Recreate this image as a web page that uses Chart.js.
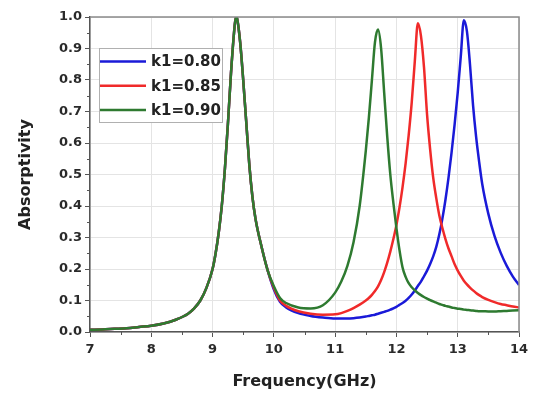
<!DOCTYPE html>
<html><head><meta charset="utf-8">
<script src="https://cdn.jsdelivr.net/npm/chart.js@4.4.0/dist/chart.umd.min.js"></script>
<style>html,body{margin:0;padding:0;background:#fff}#wrap{width:534px;height:396px}</style>
</head><body><div id="wrap"><canvas id="c" width="534" height="396"></canvas></div>
<script>
const freq = [7.0,7.2,7.4,7.6,7.8,8.0,8.2,8.4,8.6,8.7,8.8,8.9,9.0,9.05,9.1,9.15,9.2,9.25,9.3,9.35,9.38,9.4,9.45,9.5,9.55,9.6,9.65,9.7,9.8,9.9,
  10.0,10.1,10.2,10.4,10.6,10.8,11.0,11.1,11.2,11.3,11.4,11.5,11.55,11.6,11.65,11.7,11.75,11.8,11.85,11.9,11.95,12.0,
  12.05,12.1,12.15,12.2,12.25,12.3,12.35,12.4,12.45,12.5,12.55,12.6,12.65,12.7,12.75,
  12.8,12.85,12.9,12.95,13.0,13.05,13.1,13.15,13.2,13.25,13.3,13.35,13.4,
  13.5,13.6,13.7,13.8,13.9,14.0];

const k080 = [0.007,0.008,0.010,0.012,0.016,0.020,0.027,0.039,0.058,0.075,0.100,0.140,0.200,0.250,0.315,0.400,0.515,0.660,0.820,0.950,1.000,0.995,0.920,0.800,0.665,0.530,0.430,0.360,0.270,0.195,
  0.135,0.096,0.078,0.060,0.051,0.046,0.043,0.043,0.043,0.044,0.046,0.049,0.051,0.053,0.055,0.058,0.061,0.064,0.067,0.071,0.075,0.080,
  0.086,0.092,0.099,0.108,0.119,0.132,0.146,0.160,0.177,0.195,0.216,0.240,0.270,0.310,0.360,
  0.420,0.490,0.570,0.660,0.760,0.875,0.990,0.955,0.850,0.720,0.620,0.540,0.470,
  0.375,0.305,0.252,0.210,0.176,0.149];

const k085 = [0.007,0.008,0.010,0.012,0.016,0.020,0.027,0.039,0.058,0.075,0.100,0.140,0.200,0.250,0.315,0.400,0.515,0.660,0.820,0.950,1.000,0.995,0.920,0.800,0.665,0.530,0.430,0.360,0.270,0.195,
  0.140,0.100,0.083,0.066,0.058,0.055,0.056,0.060,0.067,0.076,0.087,0.100,0.108,0.118,0.130,0.145,0.165,0.190,0.220,0.255,0.295,0.340,
  0.395,0.460,0.535,0.625,0.730,0.860,0.980,0.940,0.840,0.690,0.580,0.490,0.425,0.370,0.330,
  0.295,0.265,0.240,0.215,0.195,0.178,0.163,0.151,0.141,0.132,0.124,0.117,0.111,
  0.102,0.095,0.089,0.085,0.081,0.078];

const k090 = [0.007,0.008,0.010,0.012,0.016,0.020,0.027,0.039,0.058,0.075,0.100,0.140,0.200,0.250,0.315,0.400,0.515,0.660,0.820,0.950,1.000,0.995,0.920,0.800,0.665,0.530,0.430,0.360,0.270,0.195,
  0.145,0.108,0.092,0.078,0.075,0.085,0.125,0.160,0.210,0.285,0.400,0.575,0.680,0.800,0.920,0.960,0.900,0.760,0.620,0.500,0.410,0.330,
  0.260,0.205,0.175,0.155,0.142,0.132,0.124,0.117,0.111,0.106,0.101,0.097,0.093,0.089,0.086,
  0.083,0.081,0.078,0.076,0.074,0.073,0.071,0.070,0.069,0.068,0.067,0.066,0.066,
  0.065,0.065,0.066,0.067,0.068,0.069];

const seriesLabels = ['k1=0.80','k1=0.85','k1=0.90'];
const seriesColors = ['#1a1ad8','#f02a2a','#2e7a30'];
const xTitle = 'Frequency(GHz)';
const yTitle = 'Absorptivity';

const FONT = '"DejaVu Sans", Arial, sans-serif';
const series = [k080, k085, k090];

const framePlugin = {
  id: 'frame',
  afterDraw(chart) {
    const {ctx, chartArea: a, scales: {x, y}} = chart;
    ctx.save();
    ctx.strokeStyle = '#8a8a8a';
    ctx.lineWidth = 1.5;
    ctx.beginPath();
    ctx.moveTo(a.left, a.top); ctx.lineTo(a.right, a.top); ctx.lineTo(a.right, a.bottom);
    ctx.stroke();
    ctx.strokeStyle = '#555';
    ctx.lineWidth = 1;
    ctx.beginPath();
    for (let v = 7.5; v < 14; v += 1) {
      const px = Math.round(x.getPixelForValue(v)) + 0.5;
      ctx.moveTo(px, a.bottom); ctx.lineTo(px, a.bottom + 3);
    }
    for (let v = 0.05; v < 1; v += 0.1) {
      const py = Math.round(y.getPixelForValue(v)) + 0.5;
      ctx.moveTo(a.left, py); ctx.lineTo(a.left - 3, py);
    }
    ctx.stroke();
    const bx = 99, by = 48, bw = 123, bh = 74;
    ctx.fillStyle = '#fff';
    ctx.fillRect(bx, by, bw, bh);
    ctx.strokeStyle = '#b0b0b0';
    ctx.lineWidth = 1;
    ctx.strokeRect(bx + 0.5, by + 0.5, bw, bh);
    ctx.font = 'bold 15px ' + FONT;
    ctx.textBaseline = 'middle';
    ctx.textAlign = 'left';
    chart.data.datasets.forEach((ds, i) => {
      const yy = by + 13.5 + i * 24.3;
      ctx.strokeStyle = ds.borderColor;
      ctx.lineWidth = 2.5;
      ctx.beginPath(); ctx.moveTo(bx + 1, yy); ctx.lineTo(bx + 47, yy); ctx.stroke();
      ctx.fillStyle = '#222';
      ctx.fillText(ds.label, bx + 52, yy + 1);
    });
    ctx.restore();
  }
};

new Chart(document.getElementById('c'), {
  type: 'line',
  data: {
    datasets: series.map((s, i) => ({
      label: seriesLabels[i],
      data: freq.map((f, j) => ({x: f, y: s[j]})),
      borderColor: seriesColors[i],
      backgroundColor: seriesColors[i],
      borderWidth: 2.5,
      pointRadius: 0,
      fill: false,
      cubicInterpolationMode: 'monotone',
      order: 2 - i
    }))
  },
  options: {
    responsive: false,
    animation: false,
    devicePixelRatio: 1,
    layout: {padding: {top: 17, right: 15, left: 0, bottom: 0}},
    plugins: {legend: {display: false}, tooltip: {enabled: false}},
    scales: {
      x: {
        type: 'linear', min: 7, max: 14,
        afterFit(s) { s.height = 64; },
        ticks: {stepSize: 1, color: '#2a2a2a', padding: 5, maxRotation: 0,
          font: {family: FONT, weight: 'bold', size: 13}},
        grid: {color: '#e4e4e4', lineWidth: 1, tickColor: '#555', tickLength: 5, drawTicks: true},
        border: {display: true, color: '#555', width: 1.5},
        title: {display: true, text: xTitle, color: '#222', padding: {top: 0, bottom: 5},
          font: {family: FONT, weight: 'bold', size: 16}}
      },
      y: {
        min: 0, max: 1,
        afterFit(s) { s.width = 90; },
        ticks: {stepSize: 0.1, color: '#2a2a2a', padding: 3,
          callback: v => v.toFixed(1),
          font: {family: FONT, weight: 'bold', size: 13}},
        grid: {color: '#e4e4e4', lineWidth: 1, tickColor: '#555', tickLength: 5, drawTicks: true},
        border: {display: true, color: '#555', width: 1.5},
        title: {display: true, text: yTitle, color: '#222', padding: {top: 16, bottom: 0},
          font: {family: FONT, weight: 'bold', size: 16}}
      }
    }
  },
  plugins: [framePlugin]
});
</script>
</body></html>
